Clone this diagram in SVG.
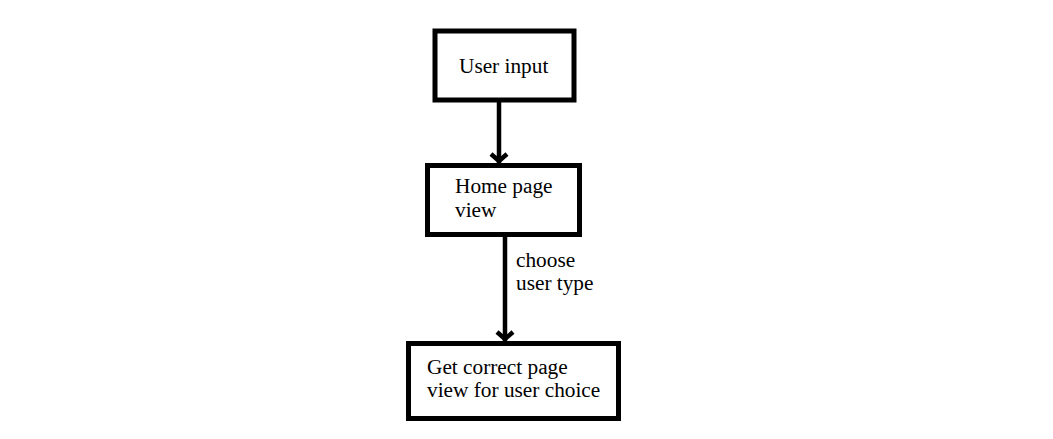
<svg xmlns="http://www.w3.org/2000/svg" width="1053" height="439" viewBox="0 0 1053 439">
<defs>
<style>
.box{fill:#fff;stroke:#000;stroke-width:5}
.t{font-family:"Liberation Serif","Times New Roman",serif;font-size:21.3px;fill:#000}
.c{stroke:#000;stroke-width:4.5;fill:none}
</style>
</defs>
<rect width="1053" height="439" fill="#fff"/>
<g id="connectors">
<line class="c" x1="499" y1="101" x2="499" y2="163"/>
<path class="c" d="M491 154 L499 161 L507 154"/>
<line class="c" x1="505" y1="237" x2="505" y2="341"/>
<path class="c" d="M497 332 L505 339 L513 332"/>
<text class="t" x="516" y="267">choose</text>
<text class="t" x="516" y="290">user type</text>
</g>
<g id="node-user-input">
<rect class="box" x="435" y="31" width="139" height="69"/>
<text class="t" x="459" y="73">User input</text>
</g>
<g id="node-home-page">
<rect class="box" x="427.5" y="165.5" width="152" height="69"/>
<text class="t" x="455" y="193">Home page</text>
<text class="t" x="455" y="217">view</text>
</g>
<g id="node-correct-page">
<rect class="box" x="408.5" y="343.5" width="210" height="75"/>
<text class="t" x="427" y="374">Get correct page</text>
<text class="t" x="427" y="397">view for user choice</text>
</g>
</svg>
